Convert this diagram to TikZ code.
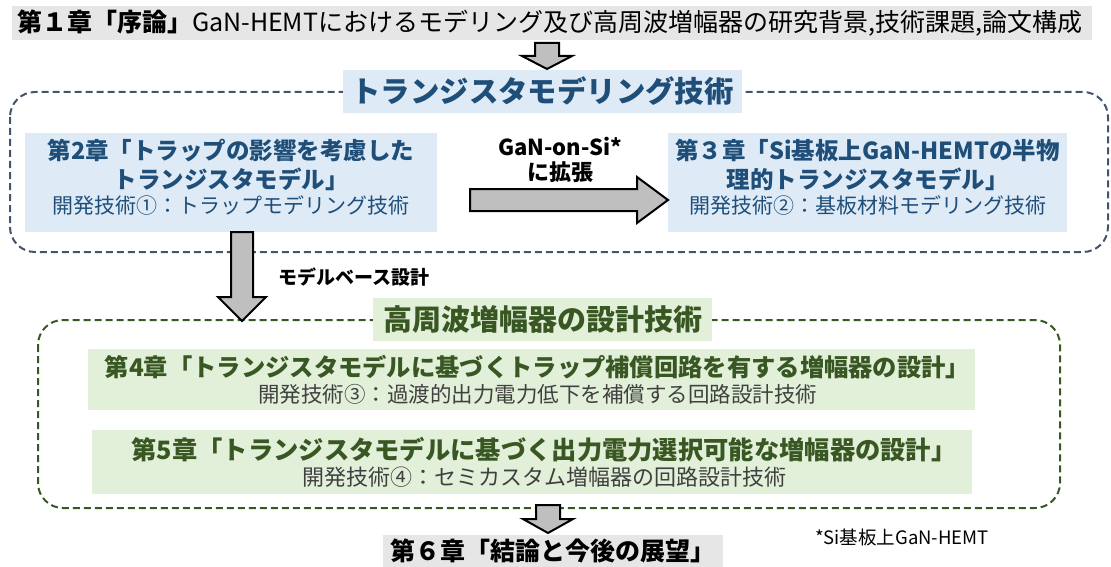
\documentclass[tikz,border=0pt]{standalone}
\usepackage{fontspec}
\setmainfont{Noto Sans CJK JP}
\usetikzlibrary{calc}
\definecolor{bannergray}{HTML}{E7E6E6}
\definecolor{lblue}{HTML}{DEEBF7}
\definecolor{dblue}{HTML}{1F4E79}
\definecolor{slate}{HTML}{44546A}
\definecolor{lgreen}{HTML}{E2F0D9}
\definecolor{dgreen}{HTML}{385723}
\definecolor{subgray}{HTML}{404040}
\definecolor{arrowgray}{HTML}{BFBFBF}
\newcommand\fs[1]{\fontsize{#1}{#1}\selectfont}
\tikzset{
  every node/.style={inner sep=0pt, outer sep=0pt},
  banner/.style={fill=bannergray, anchor=center},
  bluebox/.style={fill=lblue, align=center, text=dblue},
  greenbox/.style={fill=lgreen, align=center, text=dgreen},
  blueframe/.style={draw=slate, line width=2pt, dash pattern=on 7pt off 4pt, rounded corners=25pt},
  greenframe/.style={draw=dgreen, line width=2pt, dash pattern=on 7pt off 4pt, rounded corners=25pt},
  barrow/.style={fill=arrowgray, draw=black, line width=2pt, line join=miter},
  lbl/.style={font=\bfseries\fs{22}, text=black, align=center}
}
\begin{document}
\begin{tikzpicture}[x=1pt,y=-1pt]
\useasboundingbox (0,0) rectangle (1111,567);
% frames
\draw[blueframe] (10,92) rectangle (1108,252);
\draw[greenframe] (38,320) rectangle (1060,508);
% banner
\node[banner, minimum width=1080pt, minimum height=34pt] (ch1) at (552,23) {};
\node[anchor=west, text=black] (ch1t) at (17,23) {\fs{25}\textbf{第１章「序論」}GaN-HEMTにおけるモデリング及び高周波増幅器の研究背景,技術課題,論文構成};
% section titles
\node[bluebox, minimum width=399pt, minimum height=43pt, font=\bfseries\fs{29.4}] (modtitle) at (542.5,91.5) {トランジスタモデリング技術};
\node[greenbox, minimum width=339pt, minimum height=43pt, font=\bfseries\fs{29}] (amptitle) at (542.5,319.5) {高周波増幅器の設計技術};
% chapter 2 and 3
\node[bluebox, minimum width=412pt, minimum height=99pt] (ch2) at (231,182.5) {};
\node[bluebox] (ch2t) at ($(ch2.center)+(0,-5)$) {{\bfseries\fs{23.5}第2章「トラップの影響を考慮した}\\[5pt]{\bfseries\fs{23.5}トランジスタモデル」}\\[4pt]{\fs{21}開発技術①：トラップモデリング技術}};
\node[bluebox, minimum width=399pt, minimum height=99pt] (ch3) at (867.5,182.5) {};
\node[bluebox] (ch3t) at ($(ch3.center)+(0,-5)$) {{\bfseries\fs{23.5}第３章「Si基板上GaN-HEMTの半物}\\[5pt]{\bfseries\fs{23.5}理的トランジスタモデル」}\\[4pt]{\fs{21}開発技術②：基板材料モデリング技術}};
% chapter 4 and 5
\node[greenbox, minimum width=887pt, minimum height=61pt] (ch4) at (531.5,379.5) {};
\node[greenbox] (ch4t) at ($(ch4.center)+(6,0)$) {{\bfseries\fs{24.3}第4章「トランジスタモデルに基づくトラップ補償回路を有する増幅器の設計」}\\[4pt]{\fs{21.5}\color{subgray}開発技術③：過渡的出力電力低下を補償する回路設計技術}};
\node[greenbox, minimum width=880pt, minimum height=64pt] (ch5) at (532,462) {};
\node[greenbox] (ch5t) at ($(ch5.center)+(12,0)$) {{\bfseries\fs{25.3}第5章「トランジスタモデルに基づく出力電力選択可能な増幅器の設計」}\\[4pt]{\fs{22}\color{subgray}開発技術④：セミカスタム増幅器の回路設計技術}};
% chapter 6
\node[banner, minimum width=340pt, minimum height=32pt, font=\bfseries\fs{25}] (ch6) at (553,551) {第６章「結論と今後の展望」};
% labels
\node[lbl] (lblsi) at (560,160) {GaN-on-Si*\\[3pt]に拡張};
\node[lbl, anchor=west, font=\bfseries\fs{19}] (lblmb) at (278,277) {モデルベース設計};
\node[anchor=west, font=\fs{18.5}] (foot) at (815,537) {*Si基板上GaN-HEMT};
% arrows
\coordinate (a1e) at (547,69);
\coordinate (a1s) at (a1e |- ch1.south);
\draw[barrow] ($(a1s)+(-12,3)$) -- ($(a1s)+(12,3)$) -- ($(a1e)+(12,-13)$) -- ($(a1e)+(25,-13)$) -- (a1e) -- ($(a1e)+(-25,-13)$) -- ($(a1e)+(-12,-13)$) -- cycle;
\coordinate (a2s) at (470,200);
\coordinate (a2e) at (a2s -| ch3.west);
\draw[barrow] ($(a2s)+(0,-11)$) -- ($(a2e)+(-31,-11)$) -- ($(a2e)+(-31,-23)$) -- (a2e) -- ($(a2e)+(-31,23)$) -- ($(a2e)+(-31,11)$) -- ($(a2s)+(0,11)$) -- cycle;
\coordinate (a3e) at (242,321);
\coordinate (a3s) at (a3e |- ch2.south);
\draw[barrow] ($(a3s)+(-11,0)$) -- ($(a3s)+(11,0)$) -- ($(a3e)+(11,-24)$) -- ($(a3e)+(24,-24)$) -- (a3e) -- ($(a3e)+(-24,-24)$) -- ($(a3e)+(-11,-24)$) -- cycle;
\coordinate (a4s) at (548,505);
\coordinate (a4e) at (548,533);
\draw[barrow] ($(a4s)+(-12,0)$) -- ($(a4s)+(12,0)$) -- ($(a4e)+(12,-14)$) -- ($(a4e)+(25,-14)$) -- (a4e) -- ($(a4e)+(-25,-14)$) -- ($(a4e)+(-12,-14)$) -- cycle;
\end{tikzpicture}
\end{document}
